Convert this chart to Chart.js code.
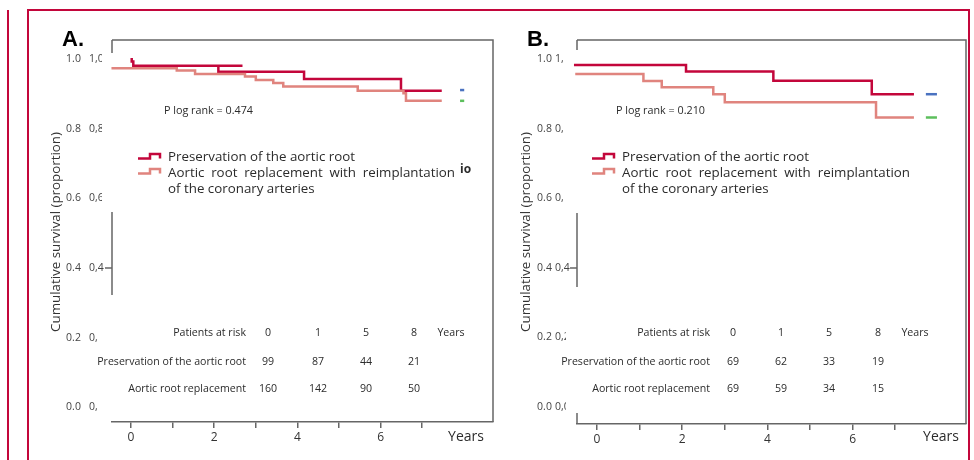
<!DOCTYPE html>
<html>
<head>
<meta charset="utf-8">
<script src="https://cdn.jsdelivr.net/npm/chart.js@4.4.1/dist/chart.umd.min.js"></script>
<style>
	html, body { margin: 0; padding: 0; background: #fff; }
	#wrap { position: relative; width: 974px; height: 460px; overflow: hidden; }
	#wrap canvas { position: absolute; left: 0; top: 0; }
	.rule { position: absolute; border-color: #c3063b; border-style: solid; }
</style>
</head>
<body>
<div id="wrap">
	<div class="rule" style="left:7px;top:10px;width:0;height:460px;border-width:0 0 0 2.5px;"></div>
	<div class="rule" style="left:27px;top:9px;width:939px;height:470px;border-width:2.5px;"></div>
	<canvas id="chartA" width="974" height="460"></canvas>
	<canvas id="chartB" width="974" height="460"></canvas>
</div>
<script>
( function() {
	'use strict';

	// Axis ticks and labels.
	var yearTicks = [ 0, 1, 2, 3, 4, 5, 6, 7 ];
	var survTicks = [ 0, 0.2, 0.4, 0.6, 0.8, 1.0 ];
	var survLabels = [ '0.0', '0.2', '0.4', '0.6', '0.8', '1.0' ];
	var survLabelsComma = [ '0,0', '0,2', '0,4', '0,6', '0,8', '1,0' ];

	// Legend and risk table text.
	var groupNames = [ 'Preservation of the aortic root', 'Aortic root replacement with reimplantation', 'of the coronary arteries' ];
	var riskRows = [ 'Patients at risk', 'Preservation of the aortic root', 'Aortic root replacement' ];
	var riskYears = [ '0', '1', '5', '8' ];

	// Panel A: survival curves (years, proportion surviving).
	var yearsAPreserve = [ 0.017, 0.017, 0.055, 2.68, 2.10, 4.16, 6.49, 7.47 ];
	var survAPreserve = [ 1.004, 0.994, 0.982, 0.982, 0.965, 0.944, 0.910, 0.910 ];
	var yearsAReplace = [ -0.55, -0.47, 1.10, 1.54, 2.74, 3.00, 3.42, 3.66, 5.45, 6.55, 6.61, 7.47 ];
	var survAReplace = [ 0.990, 0.975, 0.968, 0.958, 0.951, 0.941, 0.932, 0.922, 0.910, 0.903, 0.881, 0.881 ];
	var yearsAMarks = [ 7.91, 8.01 ];
	var survABlue = [ 0.912, 0.912 ];
	var survAGreen = [ 0.881, 0.881 ];
	var riskAPreserve = [ 99, 87, 44, 21 ];
	var riskAReplace = [ 160, 142, 90, 50 ];

	// Panel B.
	var yearsBPreserve = [ -0.54, -0.54, 2.09, 4.14, 6.45, 7.44 ];
	var survBPreserve = [ 1.001, 0.984, 0.965, 0.939, 0.900, 0.900 ];
	var yearsBReplace = [ -0.51, -0.51, 1.09, 1.52, 2.73, 3.00, 6.55, 7.44 ];
	var survBReplace = [ 0.984, 0.958, 0.938, 0.920, 0.900, 0.877, 0.833, 0.833 ];
	var yearsBMarks = [ 7.72, 7.98 ];
	var survBBlue = [ 0.900, 0.900 ];
	var survBGreen = [ 0.833, 0.833 ];
	var riskBPreserve = [ 69, 62, 33, 19 ];
	var riskBReplace = [ 69, 59, 34, 15 ];

	var RED = '#c3063b';
	var PINK = '#e0847e';
	var AXIS = '#666';
	var TEXT = '#2b2b2b';
	var FONT = '"Open Sans", Lato, sans-serif';

	function toPoints( xs, ys ) {
		return xs.map( function( x, i ) {
			return { x: x, y: ys[ i ] };
		} );
	}

	/**
	 * Pick a font size so that text spans the given width.
	 */
	function fitFont( ctx, text, width ) {
		ctx.font = '20px ' + FONT;
		var size = 20 * width / ctx.measureText( text ).width;
		return size.toFixed( 2 ) + 'px ' + FONT;
	}

	/**
	 * Spread words of a line evenly between two x positions.
	 */
	function justify( ctx, text, x0, x1, y ) {
		var words = text.split( ' ' );
		var used = words.reduce( function( a, w ) {
			return a + ctx.measureText( w ).width;
		}, 0 );
		var gap = ( x1 - x0 - used ) / ( words.length - 1 );
		var x = x0;
		words.forEach( function( w ) {
			ctx.fillText( w, x, y );
			x += ctx.measureText( w ).width + gap;
		} );
	}

	function drawIcon( ctx, x, y, color ) {
		ctx.strokeStyle = color;
		ctx.lineWidth = 2.5;
		ctx.beginPath();
		ctx.moveTo( x, y );
		ctx.lineTo( x + 12, y );
		ctx.lineTo( x + 12, y - 4.5 );
		ctx.lineTo( x + 22, y - 4.5 );
		ctx.lineTo( x + 22, y );
		ctx.stroke();
	}

	var decorations = {
		id: 'decorations',
		afterDraw: function( chart, args, opts ) {
			var p = opts.panel;
			var ctx = chart.ctx;
			var area = chart.chartArea;
			var yScale = chart.scales.y;
			ctx.save();

			// Frame: top, right and broken left side.
			ctx.strokeStyle = AXIS;
			ctx.lineWidth = 1.5;
			ctx.beginPath();
			ctx.moveTo( area.left, area.top );
			ctx.lineTo( area.right, area.top );
			ctx.lineTo( area.right, area.bottom );
			p.leftAxis.forEach( function( seg ) {
				ctx.moveTo( area.left, seg[ 0 ] );
				ctx.lineTo( area.left, seg[ 1 ] );
			} );
			var y04 = yScale.getPixelForValue( 0.4 );
			ctx.moveTo( area.left - 7, y04 );
			ctx.lineTo( area.left, y04 );
			ctx.stroke();

			// Panel letter.
			ctx.fillStyle = '#000';
			ctx.font = 'bold 22px "Liberation Sans", Arial, sans-serif';
			ctx.textBaseline = 'alphabetic';
			ctx.textAlign = 'left';
			ctx.fillText( p.letter, p.letterX, 46 );

			// Doubled y tick labels.
			ctx.fillStyle = '#444';
			ctx.font = '10.5px ' + FONT;
			ctx.textBaseline = 'middle';
			survTicks.forEach( function( v, i ) {
				var py = yScale.getPixelForValue( v );
				ctx.textAlign = 'center';
				ctx.fillText( survLabels[ i ], p.tickX, py );
				ctx.save();
				ctx.beginPath();
				ctx.rect( p.commaX - 2, py - 10, p.commaClip[ i ] - p.commaX + 2, 20 );
				ctx.clip();
				ctx.textAlign = 'left';
				ctx.fillText( survLabelsComma[ i ], p.commaX, py );
				ctx.restore();
			} );

			// Y title.
			ctx.save();
			ctx.translate( p.titleX, 232 );
			ctx.rotate( -Math.PI / 2 );
			ctx.fillStyle = '#333';
			ctx.font = fitFont( ctx, 'Cumulative survival (proportion)', 200 );
			ctx.textAlign = 'center';
			ctx.fillText( 'Cumulative survival (proportion)', 0, 0 );
			ctx.restore();

			// X title.
			ctx.fillStyle = TEXT;
			ctx.font = '14px ' + FONT;
			ctx.textAlign = 'center';
			ctx.fillText( 'Years', p.yearsX, 437 );

			// Legend.
			drawIcon( ctx, p.legendX, 158.5, RED );
			drawIcon( ctx, p.legendX, 173.5, PINK );
			ctx.fillStyle = TEXT;
			ctx.font = fitFont( ctx, groupNames[ 0 ], 187 );
			ctx.textAlign = 'left';
			ctx.fillText( groupNames[ 0 ], p.legendX + 30, 157 );
			justify( ctx, groupNames[ 1 ], p.legendX + 30, p.legendRight, 173 );
			ctx.fillText( groupNames[ 2 ], p.legendX + 30, 189 );

			// P value.
			ctx.font = fitFont( ctx, 'P log rank = 0.474', 89 );
			ctx.fillText( 'P log rank = ' + p.pValue, p.pX, 111 );

			// Patients at risk table.
			var rows = [ riskYears, p.riskPreserve, p.riskReplace ];
			var rowY = [ 333, 362, 389 ];
			ctx.font = fitFont( ctx, riskRows[ 1 ], 149 );
			rows.forEach( function( row, r ) {
				ctx.textAlign = 'right';
				ctx.fillText( riskRows[ r ], p.riskLabelX, rowY[ r ] );
				ctx.textAlign = 'center';
				row.forEach( function( n, i ) {
					ctx.fillText( String( n ), p.riskX[ i ], rowY[ r ] );
				} );
			} );
			ctx.fillText( 'Years', p.riskYearsX, rowY[ 0 ] );

			if ( p.extra ) {
				ctx.font = 'bold 12px ' + FONT;
				ctx.textAlign = 'left';
				ctx.fillText( p.extra, p.extraX, 170 );
			}
			ctx.restore();
		}
	};

	function makeChart( canvasId, panel, series ) {
		var datasets = series.map( function( s ) {
			return {
				data: toPoints( s.xs, s.ys ),
				borderColor: s.color,
				borderWidth: s.width,
				stepped: true,
				pointRadius: 0,
				fill: false,
				clip: false
			};
		} );

		return new Chart( document.getElementById( canvasId ), {
			type: 'line',
			data: { datasets: datasets },
			plugins: [ decorations ],
			options: {
				responsive: false,
				animation: false,
				events: [],
				devicePixelRatio: 1,
				layout: {
					padding: { left: panel.left, right: 974 - panel.right, top: 40, bottom: 460 - panel.bottom - 24 }
				},
				plugins: {
					legend: { display: false },
					tooltip: { enabled: false },
					decorations: { panel: panel }
				},
				scales: {
					x: {
						type: 'linear',
						min: panel.xMin,
						max: panel.xMax,
						afterBuildTicks: function( scale ) {
							scale.ticks = yearTicks.map( function( v ) {
								return { value: v };
							} );
						},
						afterFit: function( scale ) {
							scale.height = 24;
						},
						ticks: {
							color: '#333',
							font: { family: FONT, size: 12 },
							padding: 2,
							maxRotation: 0,
							autoSkip: false,
							callback: function( v ) {
								return v % 2 === 0 ? String( v ) : '';
							}
						},
						grid: {
							drawOnChartArea: false,
							drawTicks: true,
							tickLength: 6,
							color: AXIS,
							lineWidth: 1.5
						},
						border: { display: true, color: AXIS, width: 1.5 }
					},
					y: {
						type: 'linear',
						display: false,
						min: panel.yMin,
						max: panel.yMax
					}
				}
			}
		} );
	}

	makeChart( 'chartA', {
		letter: 'A.', letterX: 62,
		left: 112, right: 493, bottom: 422,
		xMin: -0.457, xMax: 8.702, yMin: -0.043, yMax: 1.056,
		leftAxis: [ [ 40, 53 ], [ 212, 295 ] ],
		tickX: 73.5, commaX: 89, commaClip: [ 97, 97, 105, 102, 102, 102 ],
		titleX: 56, yearsX: 466,
		legendX: 138, legendRight: 455,
		pValue: '0.474', pX: 164,
		riskLabelX: 246, riskX: [ 268, 318, 366, 414 ], riskYearsX: 451,
		riskPreserve: riskAPreserve, riskReplace: riskAReplace,
		extra: 'io', extraX: 460
	}, [
		{ xs: yearsAReplace, ys: survAReplace, color: PINK, width: 2.5 },
		{ xs: yearsAPreserve, ys: survAPreserve, color: RED, width: 2.5 },
		{ xs: yearsAMarks, ys: survABlue, color: '#4a72c0', width: 2.5 },
		{ xs: yearsAMarks, ys: survAGreen, color: '#5cbf5c', width: 2.5 }
	] );

	makeChart( 'chartB', {
		letter: 'B.', letterX: 527,
		left: 577, right: 966, bottom: 424,
		xMin: -0.469, xMax: 8.662, yMin: -0.049, yMax: 1.056,
		leftAxis: [ [ 40, 50 ], [ 213, 287 ], [ 413, 424 ] ],
		tickX: 544.5, commaX: 555, commaClip: [ 566, 566, 571, 563, 563, 563 ],
		titleX: 526, yearsX: 941,
		legendX: 592, legendRight: 910,
		pValue: '0.210', pX: 616,
		riskLabelX: 710, riskX: [ 733, 781, 829, 878 ], riskYearsX: 915,
		riskPreserve: riskBPreserve, riskReplace: riskBReplace
	}, [
		{ xs: yearsBReplace, ys: survBReplace, color: PINK, width: 2.5 },
		{ xs: yearsBPreserve, ys: survBPreserve, color: RED, width: 2.5 },
		{ xs: yearsBMarks, ys: survBBlue, color: '#4a72c0', width: 2.5 },
		{ xs: yearsBMarks, ys: survBGreen, color: '#5cbf5c', width: 2.5 }
	] );
} )();
</script>
</body>
</html>
